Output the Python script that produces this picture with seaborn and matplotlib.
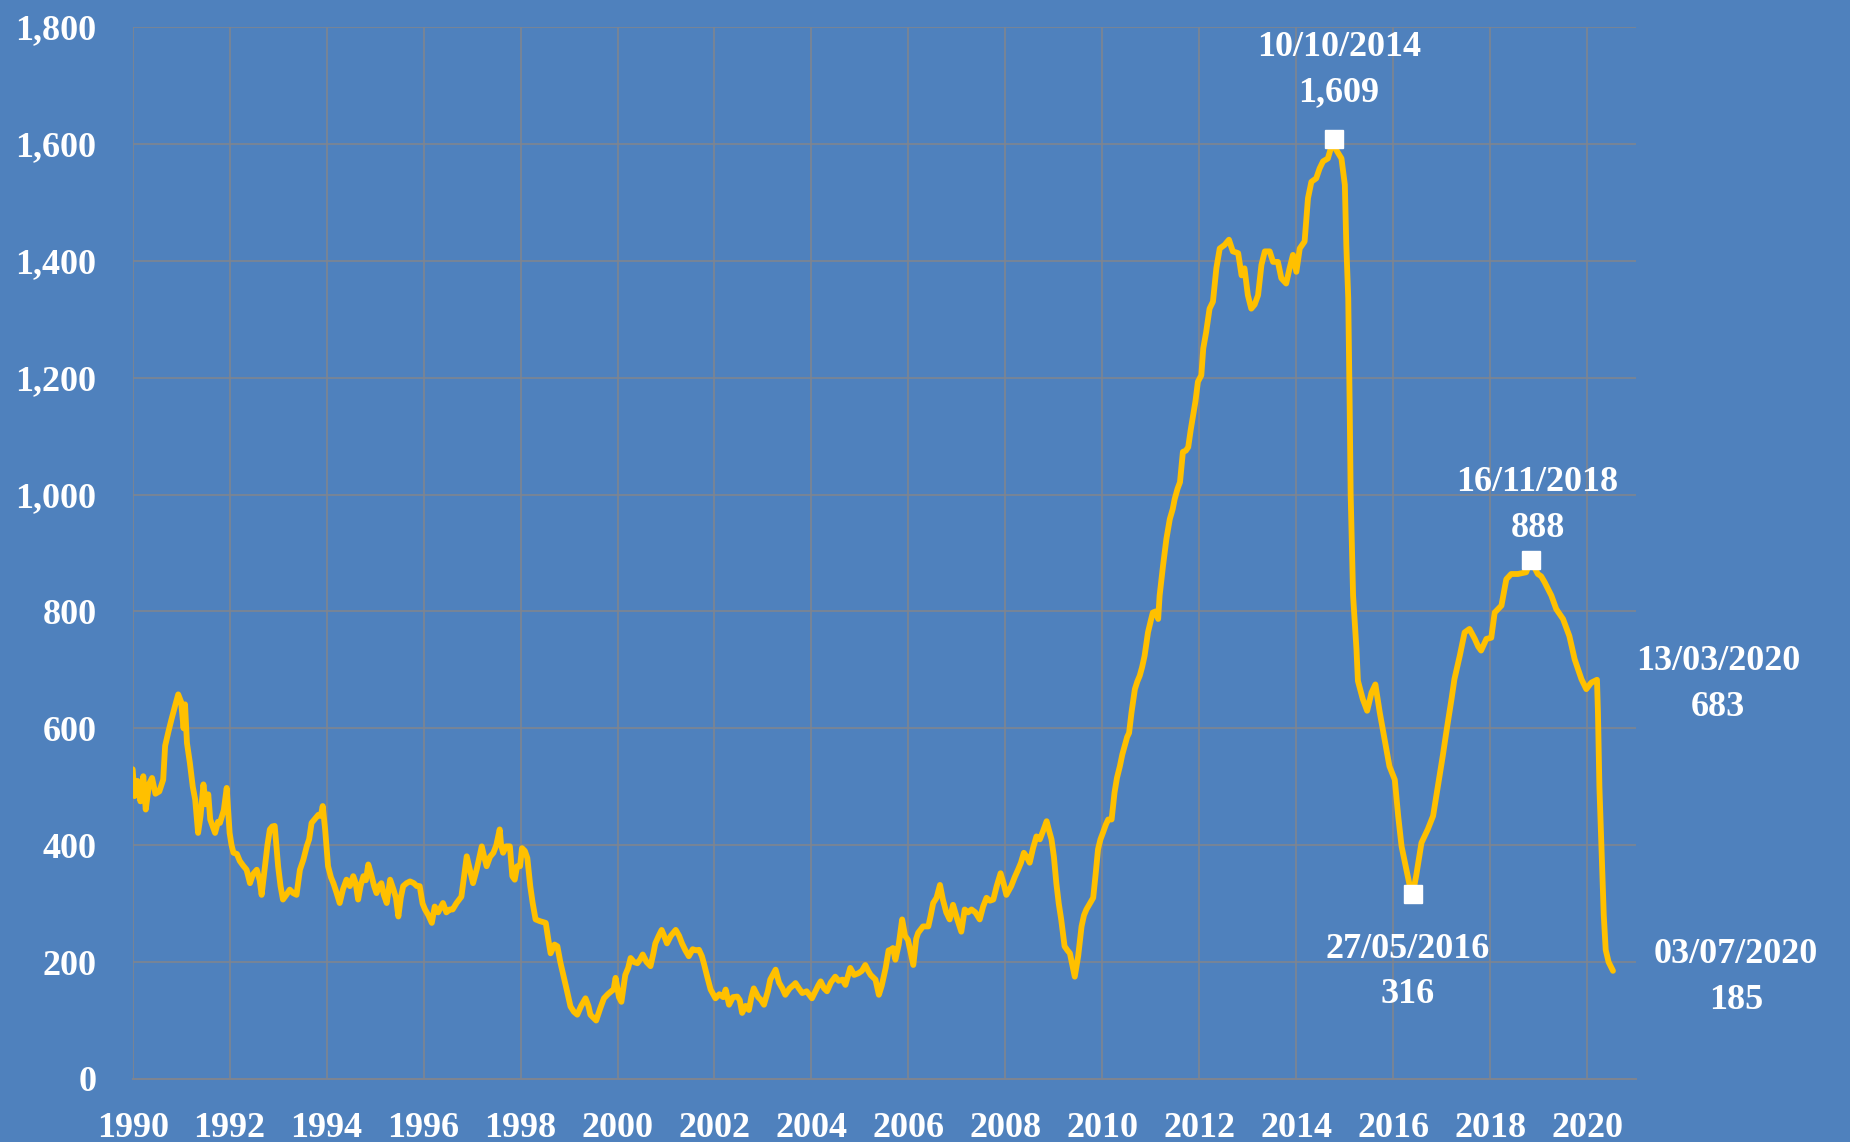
import matplotlib
matplotlib.use("Agg")
import numpy as np
import pandas as pd
import matplotlib.pyplot as plt
import seaborn as sns

BG = "#4f81bd"
LINE = "#ffc000"
GRID = "#7f8590"

# weekly oil rig count (decimal years)
years_1990s = [
    1990.00, 1990.04, 1990.10, 1990.16, 1990.22, 1990.27, 1990.34, 1990.40, 1990.47, 1990.55,
    1990.63, 1990.67, 1990.74, 1990.80, 1990.88, 1990.94, 1991.00, 1991.05, 1991.08, 1991.12,
    1991.18, 1991.24, 1991.29, 1991.35, 1991.40, 1991.46, 1991.51, 1991.56, 1991.60, 1991.66,
    1991.70, 1991.76, 1991.80, 1991.88, 1991.94, 1992.00, 1992.04, 1992.08, 1992.15, 1992.21,
    1992.28, 1992.35, 1992.42, 1992.48, 1992.56, 1992.62, 1992.66, 1992.73, 1992.78, 1992.83,
    1992.88, 1992.93, 1993.00, 1993.05, 1993.10, 1993.17, 1993.24, 1993.31, 1993.38, 1993.45,
    1993.52, 1993.59, 1993.64, 1993.69, 1993.76, 1993.83, 1993.88, 1993.92, 1993.97, 1994.03,
    1994.09, 1994.14, 1994.20, 1994.27, 1994.34, 1994.41, 1994.48, 1994.55, 1994.60, 1994.65,
    1994.70, 1994.76, 1994.81, 1994.86, 1994.92, 1994.98, 1995.03, 1995.08, 1995.13, 1995.18,
    1995.24, 1995.31, 1995.38, 1995.43, 1995.48, 1995.53, 1995.58, 1995.65, 1995.72, 1995.80,
    1995.86, 1995.92, 1995.98, 1996.03, 1996.10, 1996.17, 1996.23, 1996.30, 1996.40, 1996.47,
    1996.54, 1996.60, 1996.68, 1996.78, 1996.84, 1996.89, 1996.95, 1997.02, 1997.10, 1997.20,
    1997.25, 1997.30, 1997.37, 1997.44, 1997.50, 1997.57, 1997.60, 1997.64, 1997.70, 1997.78,
    1997.83, 1997.88, 1997.93, 1997.99, 1998.03, 1998.09, 1998.14, 1998.20, 1998.25, 1998.31,
    1998.40, 1998.52, 1998.57, 1998.62, 1998.70, 1998.76, 1998.82, 1998.89, 1998.96, 1999.03,
    1999.10, 1999.17, 1999.25, 1999.34, 1999.40, 1999.44, 1999.50, 1999.56, 1999.64, 1999.72,
    1999.80, 1999.87, 1999.92, 1999.96,
]
rigs_1990s = [
    530, 484, 510, 475, 518, 461, 505, 515, 488, 492,
    512, 570, 595, 615, 640, 658, 645, 600, 641, 575,
    541, 500, 478, 421, 450, 504, 470, 487, 444, 430,
    421, 440, 438, 460, 498, 421, 400, 387, 385, 373,
    365, 358, 335, 350, 358, 340, 315, 364, 400, 427,
    432, 433, 364, 330, 307, 315, 324, 318, 315, 358,
    375, 398, 410, 438, 445, 452, 450, 467, 427, 364,
    345, 335, 320, 301, 325, 341, 330, 347, 335, 307,
    330, 347, 340, 367, 350, 330, 318, 330, 335, 315,
    301, 341, 324, 310, 278, 310, 330, 335, 338, 335,
    330, 330, 300, 290, 280, 267, 295, 285, 301, 285,
    290, 290, 301, 312, 350, 381, 360, 335, 360, 398,
    380, 364, 380, 387, 400, 427, 400, 387, 398, 398,
    347, 341, 364, 364, 395, 390, 378, 330, 301, 273,
    270, 267, 240, 215, 230, 227, 200, 175, 150, 124,
    115, 110, 125, 138, 125, 110, 105, 100, 120, 138,
    145, 150, 153, 173,
]

years_2000s = [
    2000.03, 2000.08, 2000.16, 2000.22, 2000.27, 2000.34, 2000.41, 2000.47, 2000.52, 2000.60,
    2000.68, 2000.74, 2000.78, 2000.85, 2000.91, 2000.96, 2001.02, 2001.10, 2001.20, 2001.27,
    2001.33, 2001.40, 2001.47, 2001.55, 2001.62, 2001.68, 2001.74, 2001.78, 2001.85, 2001.92,
    2002.02, 2002.10, 2002.18, 2002.23, 2002.30, 2002.38, 2002.47, 2002.52, 2002.57, 2002.64,
    2002.71, 2002.76, 2002.81, 2002.90, 2002.96, 2003.02, 2003.10, 2003.15, 2003.26, 2003.33,
    2003.40, 2003.46, 2003.55, 2003.62, 2003.67, 2003.74, 2003.81, 2003.90, 2004.01, 2004.08,
    2004.14, 2004.19, 2004.26, 2004.32, 2004.40, 2004.49, 2004.56, 2004.64, 2004.70, 2004.76,
    2004.80, 2004.88, 2004.97, 2005.04, 2005.11, 2005.17, 2005.22, 2005.32, 2005.39, 2005.45,
    2005.53, 2005.59, 2005.63, 2005.68, 2005.73, 2005.80, 2005.87, 2005.93, 2005.99, 2006.05,
    2006.10, 2006.16, 2006.20, 2006.30, 2006.41, 2006.46, 2006.51, 2006.58, 2006.65, 2006.71,
    2006.78, 2006.85, 2006.92, 2007.00, 2007.09, 2007.16, 2007.23, 2007.30, 2007.38, 2007.47,
    2007.54, 2007.61, 2007.68, 2007.75, 2007.82, 2007.90, 2007.96, 2008.02, 2008.12, 2008.19,
    2008.26, 2008.32, 2008.38, 2008.44, 2008.50, 2008.57, 2008.64, 2008.71, 2008.78, 2008.85,
    2008.90, 2008.95, 2009.00, 2009.05, 2009.10, 2009.15, 2009.22, 2009.28, 2009.33, 2009.38,
    2009.43, 2009.50, 2009.57, 2009.62, 2009.67, 2009.74, 2009.81, 2009.86, 2009.91, 2009.96,
]
rigs_2000s = [
    140, 132, 178, 190, 207, 200, 198, 205, 213, 200,
    193, 215, 232, 245, 255, 245, 232, 245, 255, 245,
    232, 220, 210, 222, 220, 221, 210, 198, 175, 153,
    138, 145, 140, 153, 127, 140, 141, 135, 113, 125,
    118, 140, 155, 140, 135, 127, 150, 170, 187, 165,
    155, 144, 155, 160, 164, 155, 147, 150, 138, 150,
    160, 167, 155, 150, 165, 175, 168, 170, 161, 178,
    190, 178, 181, 185, 195, 185, 178, 170, 144, 160,
    190, 220, 221, 224, 204, 230, 273, 245, 238, 215,
    195, 240, 250, 261, 261, 280, 301, 310, 332, 307,
    285, 273, 298, 275, 252, 290, 285, 290, 285, 273,
    295, 310, 305, 307, 330, 352, 335, 315, 330, 345,
    358, 370, 387, 380, 370, 395, 415, 410, 425, 441,
    425, 410, 380, 335, 300, 273, 227, 220, 215, 195,
    175, 210, 261, 280, 290, 300, 310, 350, 393, 410,
]

years_2010s = [
    2010.01, 2010.07, 2010.12, 2010.19, 2010.25, 2010.30, 2010.36, 2010.41, 2010.46, 2010.51,
    2010.55, 2010.60, 2010.67, 2010.72, 2010.77, 2010.82, 2010.87, 2010.94, 2011.00, 2011.04,
    2011.10, 2011.15, 2011.18, 2011.25, 2011.32, 2011.39, 2011.45, 2011.49, 2011.55, 2011.60,
    2011.66, 2011.72, 2011.77, 2011.82, 2011.87, 2011.92, 2011.97, 2012.04, 2012.08, 2012.14,
    2012.21, 2012.28, 2012.35, 2012.42, 2012.52, 2012.61, 2012.69, 2012.80, 2012.87, 2012.93,
    2013.00, 2013.07, 2013.14, 2013.21, 2013.28, 2013.35, 2013.45, 2013.52, 2013.62, 2013.69,
    2013.79, 2013.86, 2013.93, 2014.00, 2014.07, 2014.17, 2014.24, 2014.31, 2014.41, 2014.48,
    2014.55, 2014.65, 2014.77, 2014.82, 2014.93, 2015.00, 2015.03, 2015.07, 2015.10, 2015.12,
    2015.17, 2015.24, 2015.27, 2015.37, 2015.46, 2015.55, 2015.63, 2015.72, 2015.82, 2015.92,
    2016.03, 2016.10, 2016.17, 2016.27, 2016.34, 2016.40, 2016.47, 2016.58, 2016.71, 2016.82,
    2016.92, 2017.02, 2017.09, 2017.20, 2017.26, 2017.37, 2017.47, 2017.57, 2017.68, 2017.75,
    2017.81, 2017.92, 2018.02, 2018.09, 2018.23, 2018.33, 2018.43, 2018.57, 2018.74, 2018.83,
    2018.98, 2019.05, 2019.12, 2019.26, 2019.36, 2019.50, 2019.63, 2019.74, 2019.88, 2019.98,
]
rigs_2010s = [
    421, 435, 444, 444, 490, 515, 535, 555, 570, 585,
    592, 627, 667, 680, 690, 705, 724, 764, 785, 798,
    800, 787, 827, 878, 924, 958, 975, 992, 1010, 1021,
    1073, 1075, 1081, 1110, 1135, 1160, 1193, 1204, 1250, 1278,
    1318, 1330, 1387, 1421, 1427, 1436, 1416, 1413, 1375, 1387,
    1341, 1318, 1325, 1341, 1393, 1416, 1416, 1398, 1398, 1370,
    1361, 1387, 1410, 1381, 1421, 1433, 1507, 1535, 1541, 1558,
    1570, 1575, 1609, 1590, 1575, 1530, 1427, 1336, 1150, 1000,
    827, 735, 681, 650, 630, 661, 675, 627, 581, 535,
    512, 450, 398, 358, 330, 316, 347, 404, 427, 450,
    501, 553, 592, 650, 684, 724, 764, 770, 753, 740,
    733, 753, 755, 798, 810, 855, 864, 864, 867, 888,
    864, 860, 850, 827, 804, 787, 758, 718, 684, 667,
]

years_2020 = [2020.08, 2020.20, 2020.22, 2020.25, 2020.30, 2020.34, 2020.38, 2020.44, 2020.50, 2020.53]
rigs_2020 = [678, 683, 627, 500, 380, 280, 221, 200, 190, 185]

# highlighted points
marked_years = [2014.77, 2016.40, 2018.83]
marked_rigs = [1609, 316, 888]

label_dates = ["10/10/2014", "27/05/2016", "16/11/2018", "13/03/2020", "03/07/2020"]
label_years = [2014.77, 2016.40, 2018.83, 2020.20, 2020.53]
label_rigs = [1609, 316, 888, 683, 185]
# (dx, dy of date line, dy of value line) in pixels
label_offsets = [(5, 91, 46), (-5, -55, -100), (7, 77, 31), (121, 18, -28), (123, 16, -30)]

df = pd.DataFrame({
    "year": years_1990s + years_2000s + years_2010s + years_2020,
    "rigs": rigs_1990s + rigs_2000s + rigs_2010s + rigs_2020,
})

sns.set_style("white", {"axes.facecolor": BG, "figure.facecolor": BG})
plt.rcParams["font.family"] = ["Liberation Serif", "DejaVu Serif"]

fig = plt.figure(figsize=(18.5, 11.42), dpi=100)
ax = fig.add_axes([0.0717, 0.0552, 0.8125, 0.9212])
ax.set_facecolor(BG)

sns.lineplot(data=df, x="year", y="rigs", ax=ax, color=LINE, linewidth=4.2, zorder=3)
ax.plot(marked_years, marked_rigs, "s", color="white", markersize=13, zorder=4, linestyle="none")

for d, xv, yv, (dx, dy1, dy2) in zip(label_dates, label_years, label_rigs, label_offsets):
    ax.annotate(d, (xv, yv), xytext=(dx, dy1), textcoords="offset pixels",
                ha="center", va="center", color="white", fontsize=26, fontweight="bold")
    ax.annotate(f"{yv:,}", (xv, yv), xytext=(dx, dy2), textcoords="offset pixels",
                ha="center", va="center", color="white", fontsize=26, fontweight="bold")

ax.set_xlim(1990, 2021)
ax.set_ylim(0, 1800)
ax.set_xticks(np.arange(1990, 2021, 2))
ax.set_xticklabels([str(y) for y in range(1990, 2021, 2)])
ax.set_yticks(np.arange(0, 1801, 200))
ax.set_yticklabels([f"{v:,}" for v in range(0, 1801, 200)])
ax.grid(True, color=GRID, linewidth=1.2)
ax.set_axisbelow(True)

for s in ["top", "right", "left"]:
    ax.spines[s].set_visible(False)
ax.spines["bottom"].set_color(GRID)
ax.spines["bottom"].set_linewidth(1.4)

ax.tick_params(axis="x", colors=GRID, length=8, width=1.2, direction="out", pad=16,
               labelcolor="white", labelsize=26)
ax.tick_params(axis="y", length=0, pad=26, labelcolor="white", labelsize=26)
for lbl in ax.get_xticklabels() + ax.get_yticklabels():
    lbl.set_fontweight("bold")

ax.set_xlabel("")
ax.set_ylabel("")

fig.savefig("out.png", dpi=100, facecolor=BG)
